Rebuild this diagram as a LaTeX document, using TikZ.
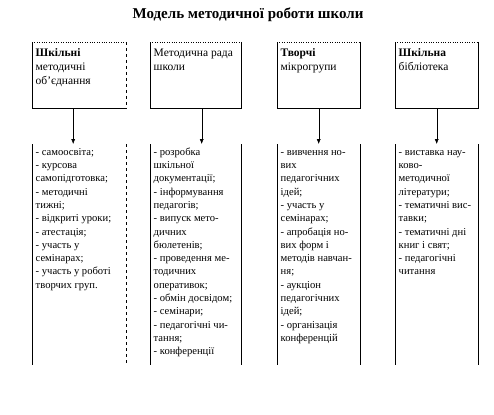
\documentclass[tikz,border=0pt]{standalone}
\usepackage{fontspec}
\setmainfont{Liberation Serif}
\usetikzlibrary{arrows.meta,positioning}

\newcommand{\topline}{\rule{0pt}{11pt}}
\tikzset{
  frame/.style={inner sep=0pt, anchor=north west},
  headtext/.style={anchor=north west, align=left, inner xsep=3.5pt, inner ysep=3.5pt,
    font=\fontsize{11.5}{14}\selectfont},
  listtext/.style={anchor=north west, align=left, inner xsep=3.5pt, inner ysep=0pt,
    font=\fontsize{10.6}{13.3}\selectfont},
  feed/.style={-{Latex[length=5pt,width=4pt]}},
}

\begin{document}
\begin{tikzpicture}[x=1pt,y=-1pt]
\useasboundingbox (0,0) rectangle (494,414);
\node[font=\fontsize{15}{18}\selectfont\bfseries] (title) at (248,15) {Модель методичної роботи школи};
% upper boxes
\node[frame, minimum width=94pt, minimum height=66pt] (H1) at (32,42) {};
\node[frame, minimum width=91pt, minimum height=66pt] (H2) at (150,42) {};
\node[frame, minimum width=83pt, minimum height=66pt] (H3) at (277,42) {};
\node[frame, minimum width=83pt, minimum height=66pt] (H4) at (395,42) {};
\node[headtext] (H1t) at (H1.north west) {\topline\textbf{Шкільні}\\методичні\\об'єднання};
\node[headtext] (H2t) at (H2.north west) {\topline Методична рада\\школи};
\node[headtext] (H3t) at (H3.north west) {\topline\textbf{Творчі}\\мікрогрупи};
\node[headtext] (H4t) at (H4.north west) {\topline\textbf{Шкільна}\\бібліотека};
% lower boxes
\node[frame, minimum width=94pt, minimum height=221pt] (L1) at (32,144) {};
\node[frame, minimum width=91pt, minimum height=221pt] (L2) at (150,144) {};
\node[frame, minimum width=83pt, minimum height=221pt] (L3) at (277,144) {};
\node[frame, minimum width=83pt, minimum height=221pt] (L4) at (395,144) {};
\node[listtext] (L1t) at (L1.north west) {\topline- самоосвіта;\\- курсова\\самопідготовка;\\- методичні\\тижні;\\- відкриті уроки;\\- атестація;\\- участь у\\семінарах;\\- участь у роботі\\творчих груп.};
\node[listtext] (L2t) at (L2.north west) {\topline- розробка\\шкільної\\документації;\\- інформування\\педагогів;\\- випуск мето-\\дичних\\бюлетенів;\\- проведення ме-\\тодичних\\оперативок;\\- обмін досвідом;\\- семінари;\\- педагогічні чи-\\тання;\\- конференції};
\node[listtext] (L3t) at (L3.north west) {\topline- вивчення но-\\вих\\педагогічних\\ідей;\\- участь у\\семінарах;\\- апробація но-\\вих форм і\\методів навчан-\\ня;\\- аукціон\\педагогічних\\ідей;\\- організація\\конференцій};
\node[listtext] (L4t) at (L4.north west) {\topline- виставка нау-\\ково-\\методичної\\літератури;\\- тематичні вис-\\тавки;\\- тематичні дні\\книг і свят;\\- педагогічні\\читання};
% frames
\foreach \b in {H1,H2,H3,H4}
  \draw[dotted] (\b.north west) -- (\b.north east);
\draw[dashed] (H1.north east) -- (H1.south east);
\draw (H1.south east) -- (H1.south west) -- (H1.north west);
\foreach \b in {H2,H3,H4}
  \draw (\b.north east) -- (\b.south east) -- (\b.south west) -- (\b.north west);
\draw (L1.north west) -- (L1.south west);
\draw[dashed] (L1.north east) -- (L1.south east);
\foreach \b in {L2,L3,L4}{
  \draw (\b.north west) -- (\b.south west);
  \draw (\b.north east) -- (\b.south east);
}
% arrows
\draw[feed] ([xshift=-6pt]H1.south) -- ([xshift=-6pt]L1.north);
\draw[feed] ([xshift=6pt]H2.south) -- ([xshift=6pt]L2.north);
\draw[feed] (H3.south) -- (L3.north);
\draw[feed] (H4.south) -- (L4.north);
\end{tikzpicture}
\end{document}
